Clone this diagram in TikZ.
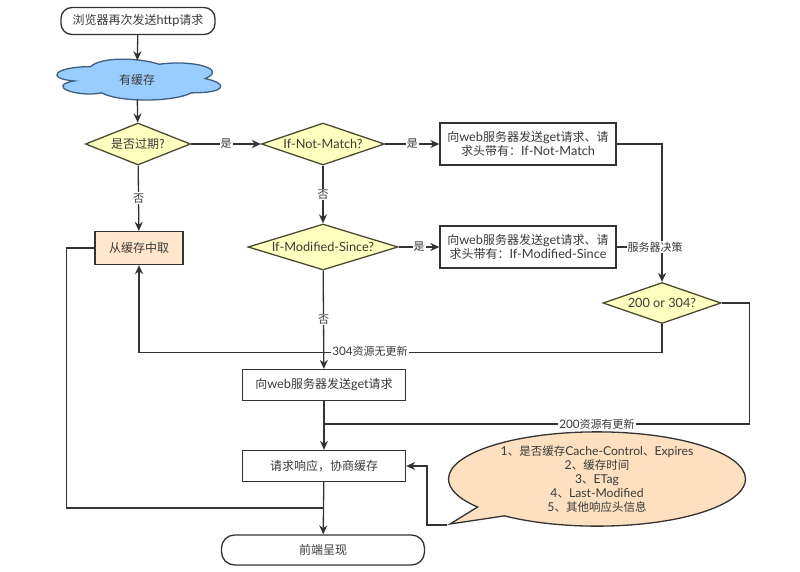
\documentclass[tikz,border=0pt]{standalone}
\usepackage{fontspec}
\setmainfont{Noto Sans CJK SC}
\newfontfamily\en{Lato}[Scale=1.06]
\usetikzlibrary{shapes.geometric,shapes.callouts,arrows.meta}
\definecolor{ln}{HTML}{333333}
\definecolor{txt}{HTML}{3A3A3A}
\definecolor{diafill}{HTML}{FFFFC0}
\definecolor{diadraw}{HTML}{4A4A30}
\definecolor{cloudfill}{HTML}{99CCFF}
\definecolor{clouddraw}{HTML}{3F5F80}
\definecolor{peach}{HTML}{FFE6CC}
\definecolor{peach2}{HTML}{FCE0C0}
\newcommand\dtext[1]{\raisebox{-0.36em}[0pt][0pt]{\makebox[0pt]{#1}}}
\tikzset{
  base/.style={draw=ln, line width=1.3pt, text=txt, inner sep=2pt, align=center},
  term/.style={base, rounded corners=11pt},
  boxnode/.style={base},
  dia/.style={base, diamond, fill=diafill, draw=diadraw, inner sep=0pt},
  lbl/.style={fill=white, inner sep=1pt, text=txt, font=\fontsize{11}{13}\selectfont},
  conn/.style={draw=ln, line width=1.3pt},
}
\begin{document}
\begin{tikzpicture}[x=1pt,y=-1pt, >={Stealth[length=9pt,width=8pt]}, font=\fontsize{12}{15}\selectfont]
\useasboundingbox (0,0) rectangle (800,571);
\fill[white] (0,0) rectangle (800,571);

\node[term, minimum width=154pt, minimum height=27pt] (start) at (138,21) {浏览器再次发送{\en http}请求};
% cloud outline (draw.io style)
\begin{scope}[shift={(45pt,-54.7pt)}, x=183pt, y=-47.7pt]
\filldraw[fill=cloudfill, draw=clouddraw, line width=1.3pt]
  (0.25,0.25) .. controls (0.05,0.25) and (0,0.5) .. (0.16,0.55)
  .. controls (0,0.66) and (0.18,0.9) .. (0.31,0.8)
  .. controls (0.4,1) and (0.7,1) .. (0.8,0.8)
  .. controls (1,0.8) and (1,0.6) .. (0.875,0.5)
  .. controls (1,0.3) and (0.81,0.1) .. (0.625,0.2)
  .. controls (0.5,0.05) and (0.3,0.05) .. (0.25,0.25) -- cycle;
\end{scope}
\node[text=txt, minimum height=39pt, inner sep=0pt] (cache) at (137,80) {有缓存};
\node[dia, minimum width=105pt, minimum height=42pt] (exp) at (138,144) {\dtext{是否过期?}};
\node[dia, minimum width=123pt, minimum height=42pt] (inm) at (323,144) {\dtext{\en If-Not-Match?}};
\node[boxnode, minimum width=176pt, minimum height=42pt, font=\fontsize{12}{14}\selectfont] (b1) at (528,144) {向{\en web}服务器发送{\en get}请求、请\\求头带有：{\en If-Not-Match}};
\node[dia, minimum width=150pt, minimum height=46pt] (ims) at (323,247) {\dtext{\en If-Modified-Since?}};
\node[boxnode, minimum width=176pt, minimum height=42pt, font=\fontsize{12}{14}\selectfont] (b2) at (528,247) {向{\en web}服务器发送{\en get}请求、请\\求头带有：{\en If-Modified-Since}};
\node[dia, minimum width=118pt, minimum height=41pt] (d200) at (662,303) {\dtext{\en 200 or 304?}};
\node[boxnode, fill=peach, minimum width=88pt, minimum height=33pt] (take) at (139,248) {从缓存中取};
\node[boxnode, minimum width=163pt, minimum height=31pt] (get) at (324,385) {向{\en web}服务器发送{\en get}请求};
\node[boxnode, minimum width=163pt, minimum height=31pt] (resp) at (324,466) {请求响应，协商缓存};
\node[term, rounded corners=13pt, minimum width=203pt, minimum height=30pt] (front) at (323,550) {前端呈现};
\node[base, ellipse callout, fill=peach2, minimum width=297pt, minimum height=88pt, inner sep=0pt,
      callout absolute pointer={(450,524)}, font=\fontsize{11.5}{14}\selectfont] (note) at (597,479)
  {{\en 1}、是否缓存{\en Cache-Control}、{\en Expires}\\{\en 2}、缓存时间\\{\en 3}、{\en ETag}\\{\en 4}、{\en Last-Modified}\\{\en 5}、其他响应头信息};

\coordinate (j200) at (324,424);
\coordinate (jleft) at (324,508);

\draw[conn,->] (start) -- (cache);
\draw[conn,->] (cache) -- (exp);
\draw[conn,->] (exp) -- node[lbl]{是} (inm);
\draw[conn,->] (inm) -- node[lbl]{是} (b1);
\draw[conn,->] (exp) -- node[lbl]{否} (take);
\draw[conn,->] (inm) -- node[lbl]{否} (ims);
\draw[conn,->] (ims) -- node[lbl]{是} (b2);
\draw[conn,->] (b1.east) -| (d200.north);
\draw[conn] (b2.east) -- (b2.east -| d200.north) node[lbl, pos=0.85]{服务器决策};
\draw[conn,->] (ims) -- node[lbl, pos=0.5]{否} (get);
\draw[conn,->] (d200.south) -- ++(0,28) -| (take.south);
\node[lbl] (l304) at (370,351) {{\en 304}资源无更新};
\draw[conn] (d200.east) -- ++(28,0) |- (j200);
\node[lbl] (l200) at (597,424) {{\en 200}资源有更新};
\draw[conn,->] (get) -- (resp);
\draw[conn,->] (resp) -- (front);
\draw[conn] (take.west) -- ++(-28,0) |- (jleft);
\draw[conn,->] (note.pointer) -- ++(-20,0) |- (resp.east);
\end{tikzpicture}
\end{document}
